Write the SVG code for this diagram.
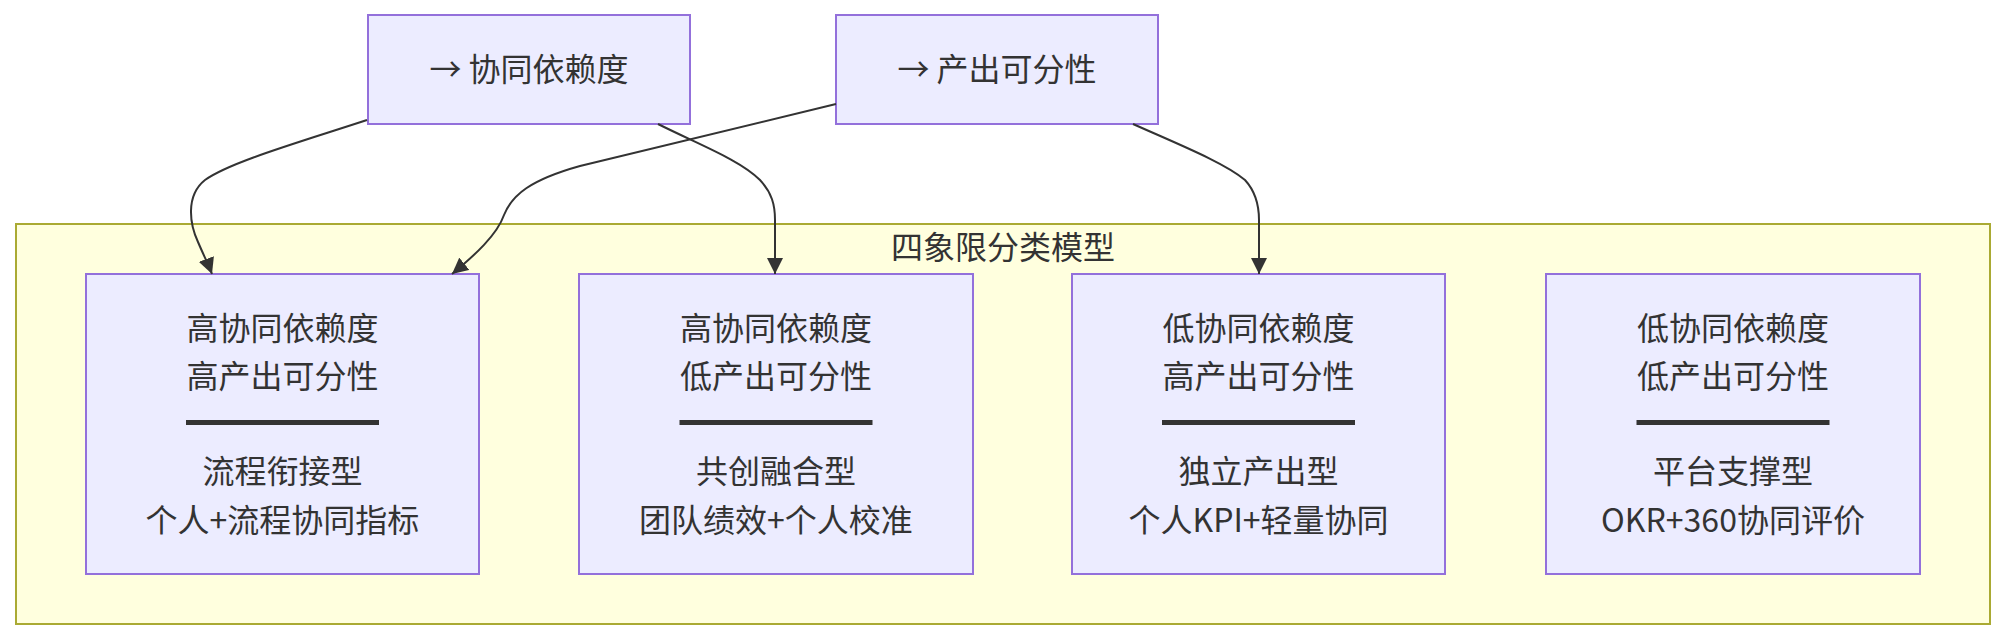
<svg xmlns="http://www.w3.org/2000/svg" width="2005" height="640" viewBox="0 0 2005 640">
<style>
  .node rect { fill: #ECECFF; stroke: #9370DB; stroke-width: 2; }
  .cluster rect { fill: #FFFFDE; stroke: #AAAA33; stroke-width: 2; }
  text { font-family: "Noto Sans CJK SC", "Liberation Sans", sans-serif; font-size: 32px; fill: #333333; text-anchor: middle; dominant-baseline: central; }
  .sep { stroke: #333333; stroke-width: 5; }
  .edge { fill: none; stroke: #333333; stroke-width: 2; marker-end: url(#arrow); }
</style>
<defs>
  <marker id="arrow" viewBox="0 0 10 10" refX="10" refY="5" markerUnits="userSpaceOnUse" markerWidth="16" markerHeight="16" orient="auto">
    <path d="M0,0 L10,5 L0,10 z" fill="#333333"/>
  </marker>
</defs>
<rect width="2005" height="640" fill="#ffffff"/>
<g id="cluster" class="cluster">
  <rect x="16" y="224" width="1974" height="400"/>
  <text x="1003" y="245">四象限分类模型</text>
</g>
<g id="nodeA" class="node">
  <rect x="368" y="15" width="322" height="109"/>
  <text x="529" y="67">→ 协同依赖度</text>
</g>
<g id="nodeB" class="node">
  <rect x="836" y="15" width="322" height="109"/>
  <text x="997" y="67">→ 产出可分性</text>
</g>
<g id="q1" class="node">
  <rect x="86" y="274" width="393" height="300"/>
  <text x="282.5" y="326">高协同依赖度</text>
  <text x="282.5" y="374">高产出可分性</text>
  <line class="sep" x1="186" y1="422.5" x2="379" y2="422.5"/>
  <text x="282.5" y="469">流程衔接型</text>
  <text x="282.5" y="518">个人+流程协同指标</text>
</g>
<g id="q2" class="node">
  <rect x="579" y="274" width="394" height="300"/>
  <text x="776" y="326">高协同依赖度</text>
  <text x="776" y="374">低产出可分性</text>
  <line class="sep" x1="679.5" y1="422.5" x2="872.5" y2="422.5"/>
  <text x="776" y="469">共创融合型</text>
  <text x="776" y="518">团队绩效+个人校准</text>
</g>
<g id="q3" class="node">
  <rect x="1072" y="274" width="373" height="300"/>
  <text x="1258.5" y="326">低协同依赖度</text>
  <text x="1258.5" y="374">高产出可分性</text>
  <line class="sep" x1="1162" y1="422.5" x2="1355" y2="422.5"/>
  <text x="1258.5" y="469">独立产出型</text>
  <text x="1258.5" y="518">个人KPI+轻量协同</text>
</g>
<g id="q4" class="node">
  <rect x="1546" y="274" width="374" height="300"/>
  <text x="1733" y="326">低协同依赖度</text>
  <text x="1733" y="374">低产出可分性</text>
  <line class="sep" x1="1636.5" y1="422.5" x2="1829.5" y2="422.5"/>
  <text x="1733" y="469">平台支撑型</text>
  <text x="1733" y="518">OKR+360协同评价</text>
</g>
<g id="edges">
  <path class="edge" d="M367,120 C 300,142 230,162 205,180 C 185,196 190,225 198,242 C 204,256 209,266 212,274"/>
  <path class="edge" d="M836,104 L 580,166 C 530,180 512,195 504,215 C 497,235 475,255 452,274"/>
  <path class="edge" d="M658,124 C 700,145 740,160 760,180 C 772,193 775,205 775,220 L 775,274"/>
  <path class="edge" d="M1133,124 C 1180,145 1225,163 1245,180 C 1256,192 1259,205 1259,220 L 1259,274"/>
</g>
</svg>
